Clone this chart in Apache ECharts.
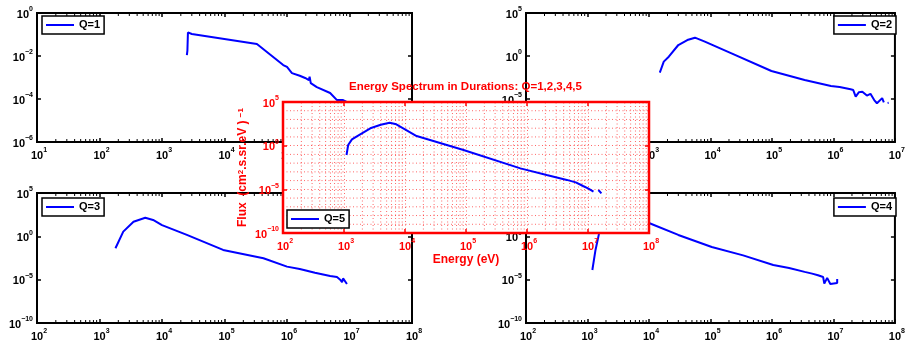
<!DOCTYPE html>
<html>
<head>
<meta charset="utf-8">
<script src="https://cdn.jsdelivr.net/npm/echarts@6/dist/echarts.min.js"></script>
<style>
  html, body { margin: 0; padding: 0; background: #fff; }
  #chart { width: 908px; height: 347px; }
</style>
</head>
<body>
<div id="chart"></div>
<script>
// spectra (energy in eV, flux in (cm^2.s.sr.eV)^-1)
const q1Energy = [2.5e3, 2.55e3, 2.6e3, 2.75e3, 3.0e3, 3.3e4, 8.7e4, 1.0e5, 1.2e5, 1.6e5, 1.95e5, 2.24e5, 2.3e5, 2.4e5, 3.0e5, 4.9e5, 6.3e5, 7.9e5, 1.6e6, 3.2e6]
const q1Flux = [1.1e-2, 1.8e-2, 1.25e-1, 1.2e-1, 1.05e-1, 3.6e-2, 3.8e-3, 3.1e-3, 1.6e-3, 1.2e-3, 9.5e-4, 7.6e-4, 1.1e-3, 5.5e-4, 3.6e-4, 1.9e-4, 8.9e-5, 8.9e-5, 3.2e-5, 1.0e-5]

const q2Energy = [1.5e3, 1.74e3, 2.1e3, 3.0e3, 4.2e3, 5.6e3, 8.1e3, 2.2e4, 9.8e4, 3.4e5, 9.1e5, 1.26e6, 1.9e6, 2.1e6, 2.3e6, 2.6e6, 2.95e6, 3.5e6, 4.0e6, 4.6e6, 5.1e6, 6.2e6, 6.6e6, 7.2e6, 7.6e6, 7.9e6]
const q2Flux = [1.15e-2, 2.2e-1, 8.3e-1, 1.9e1, 7.1e1, 1.35e2, 4.7e1, 2.0, 1.8e-2, 1.6e-3, 3.2e-4, 2.5e-4, 1.35e-4, 1.1e-4, 1.9e-5, 6.3e-5, 7.1e-5, 2.5e-5, 4.0e-5, 7.6e-6, 3.2e-6, 1.26e-5, 4.0e-6, null, 3.5e-6, 3.7e-6]

const q3Energy = [1.8e3, 2.4e3, 3.5e3, 5.4e3, 7.2e3, 1.0e4, 2.5e4, 9.5e4, 4.2e5, 1.0e6, 1.6e6, 2.8e6, 4.9e6, 6.3e6, 7.1e6, 7.6e6, 7.9e6, 9.1e6]
const q3Flux = [4.2e-2, 3.5, 4.9e1, 1.4e2, 7.8e1, 2.0e1, 1.45, 2.7e-2, 3.0e-3, 3.2e-4, 1.7e-4, 6.3e-5, 2.7e-5, 2.0e-5, 1.0e-5, 5.0e-6, 1.4e-5, 3.2e-6]

const q4Energy = [1.2e3, 1.35e3, 1.55e3, 2.2e3, 3.5e3, 5.2e3, 7.6e3, 1.0e4, 3.0e4, 1.05e5, 3.4e5, 1.05e6, 1.9e6, 3.4e6, 4.5e6, 5.6e6, 6.8e6, 7.1e6, 7.9e6, 8.9e6, 1.15e7, 1.15e7]
const q4Flux = [1.3e-4, 2.7e-2, 2.5, 4.0e1, 2.0e2, 2.8e2, 1.0e2, 3.5e1, 1.45, 5.9e-2, 6.3e-3, 5.0e-4, 2.2e-4, 7.9e-5, 5.0e-5, 3.2e-5, 2.0e-5, 3.5e-6, 1.6e-5, 3.2e-6, 4.0e-6, 1.2e-5]

const q5Energy = [1.1e3, 1.17e3, 1.35e3, 1.6e3, 2.7e3, 4.0e3, 5.6e3, 7.2e3, 1.55e4, 9.1e4, 7.8e5, 2.1e6, 4.5e6, 6.3e6, 8.3e6, 1.0e7, 1.23e7, 1.4e7, 1.48e7, 1.66e7]
const q5Flux = [8.5e-2, 1.2, 5.2, 1.1e1, 9.8e1, 2.5e2, 4.3e2, 2.8e2, 1.26e1, 3.2e-1, 2.5e-3, 4.4e-4, 1.2e-4, 6.3e-5, 2.4e-5, 1.26e-5, 5.4e-6, null, 8.3e-6, 3.5e-6]

const seriesNames = ['Q=1', 'Q=2', 'Q=3', 'Q=4', 'Q=5']
const minorSteps = [2, 3, 4, 5, 6, 7, 8, 9]
const titleText = 'Energy Spectrum in Durations: Q=1,2,3,4,5'

const FONT = 'Liberation Sans'
const BLUE = '#0000ff'
const RED = '#ff0000'
const GAP = ['-', '-']

const pairs = (xs, ys) => xs.map((x, i) => [x, ys[i] == null ? '-' : ys[i]])

// layout of the five boxes, last one is the red overlay
const panels = [
  { grid: { left: 37, top: 13, width: 375, height: 129 }, x: [1e1, 1e7], y: [1e-6, 1], yInt: 2, data: pairs(q1Energy, q1Flux), legend: { left: 42, top: 16 } },
  { grid: { left: 526, top: 13, width: 372, height: 129 }, x: [1e1, 1e7], y: [1e-10, 1e5], yInt: 5, data: pairs(q2Energy, q2Flux), legend: { right: 12, top: 16 } },
  { grid: { left: 37, top: 193, width: 375, height: 130 }, x: [1e2, 1e8], y: [1e-10, 1e5], yInt: 5, data: pairs(q3Energy, q3Flux), legend: { left: 42, top: 198 } },
  { grid: { left: 526, top: 193, width: 372, height: 130 }, x: [1e2, 1e8], y: [1e-10, 1e5], yInt: 5, data: pairs(q4Energy, q4Flux), legend: { right: 12, top: 198 } },
  { grid: { left: 283, top: 102, width: 366, height: 131 }, x: [1e2, 1e8], y: [1e-10, 1e5], yInt: 5, data: pairs(q5Energy, q5Flux), legend: { left: 287, top: 210 }, red: true }
]

function expText(v) {
  const e = Math.round(Math.log10(v))
  return e < 0 ? '\u2212' + (-e) : String(e)
}
const yLabel = v => '{b|10}{e|' + expText(v) + '}'
// spacer on the left keeps the "10" itself centred under the tick
const xLabel = v => '{p| }{b|10}{e|' + expText(v) + '}'

function rich(color) {
  return {
    p: { width: 4, fontSize: 7 },
    b: { fontFamily: FONT, fontSize: 11, fontWeight: 'bold', color, lineHeight: 14, verticalAlign: 'bottom' },
    e: { fontFamily: FONT, fontSize: 7, fontWeight: 'bold', color, lineHeight: 7, verticalAlign: 'top' }
  }
}

// 2..9 times each decade inside the x range
function minorX(lo, hi) {
  const out = []
  for (let d = Math.round(Math.log10(lo)); d < Math.round(Math.log10(hi)); d++) {
    minorSteps.forEach(k => out.push(k * Math.pow(10, d)))
  }
  return out
}

// decades that carry no labelled tick
function minorY(lo, hi, step) {
  const out = []
  for (let d = Math.round(Math.log10(lo)) + 1; d < Math.round(Math.log10(hi)); d++) {
    if (d % step !== 0) out.push(Math.pow(10, d))
  }
  return out
}

const grids = [], xAxes = [], yAxes = [], series = [], legends = []
const dotted = { color: RED, width: 1, type: [1, 2.5], opacity: 0.6 }

panels.forEach((p, g) => {
  const col = p.red ? RED : '#000'
  const z = p.red ? 21 : 1
  grids.push({ ...p.grid, show: true, backgroundColor: '#fff', borderColor: col, borderWidth: p.red ? 2.5 : 2, z: p.red ? 20 : 0 })

  const tick = { show: true, inside: true, length: 4, lineStyle: { color: col, width: 1.5 } }
  const xMain = xAxes.length
  xAxes.push({
    type: 'log', gridIndex: g, min: p.x[0], max: p.x[1], interval: 1, position: 'bottom', z,
    axisLine: { show: false }, axisTick: tick,
    axisLabel: { formatter: xLabel, margin: 5, rich: rich(col) },
    splitLine: { show: !!p.red, lineStyle: dotted },
    name: p.red ? 'Energy (eV)' : '', nameLocation: 'middle', nameGap: 21,
    nameTextStyle: { color: RED, fontFamily: FONT, fontSize: 12, fontWeight: 'bold' }
  })
  xAxes.push({
    type: 'log', gridIndex: g, min: p.x[0], max: p.x[1], interval: 1, position: 'top', z,
    axisLine: { show: false }, axisTick: tick, axisLabel: { show: false }, splitLine: { show: false }
  })

  const yMain = yAxes.length
  yAxes.push({
    type: 'log', gridIndex: g, min: p.y[0], max: p.y[1], interval: p.yInt, position: 'left', z,
    axisLine: { show: false }, axisTick: tick,
    axisLabel: { formatter: yLabel, margin: 4, rich: rich(col) },
    splitLine: { show: !!p.red, lineStyle: dotted },
    name: p.red ? 'Flux  (cm{s|2}.s.sr.eV ) {t|\u22121}' : '', nameLocation: 'middle', nameGap: 34,
    nameTextStyle: {
      color: RED, fontFamily: FONT, fontSize: 12, fontWeight: 'bold',
      rich: {
        s: { color: RED, fontFamily: FONT, fontSize: 8, fontWeight: 'bold', verticalAlign: 'top', lineHeight: 8 },
        t: { color: RED, fontFamily: FONT, fontSize: 8, fontWeight: 'bold', verticalAlign: 'top', lineHeight: 4 }
      }
    }
  })
  yAxes.push({
    type: 'log', gridIndex: g, min: p.y[0], max: p.y[1], interval: p.yInt, position: 'right', z,
    axisLine: { show: false }, axisTick: tick, axisLabel: { show: false }, splitLine: { show: false }
  })

  // minor decoration drawn on the panel's own log scales:
  // dotted minor grid in the red box, short minor ticks along top and bottom of the black ones
  const deco = []
  if (p.red) {
    minorX(p.x[0], p.x[1]).forEach(v => deco.push([v, p.y[0]], [v, p.y[1]], GAP))
    minorY(p.y[0], p.y[1], p.yInt).forEach(v => deco.push([p.x[0], v], [p.x[1], v], GAP))
  } else {
    const f = Math.pow(10, 3 * Math.log10(p.y[1] / p.y[0]) / p.grid.height)
    minorX(p.x[0], p.x[1]).forEach(v => {
      deco.push([v, p.y[0]], [v, p.y[0] * f], GAP, [v, p.y[1] / f], [v, p.y[1]], GAP)
    })
  }
  series.push({
    type: 'line', xAxisIndex: xMain, yAxisIndex: yMain, data: deco, symbol: 'none',
    connectNulls: false, silent: true, z: p.red ? 21 : 1,
    lineStyle: p.red ? dotted : { color: '#000', width: 1 }
  })

  series.push({
    name: seriesNames[g], type: 'line', xAxisIndex: xMain, yAxisIndex: yMain,
    data: p.data, symbol: 'none', connectNulls: false, z: p.red ? 22 : 2,
    lineStyle: { color: BLUE, width: 2 }, itemStyle: { color: BLUE }
  })

  legends.push({
    data: [seriesNames[g]], ...p.legend, selectedMode: false,
    backgroundColor: '#fff', borderColor: '#000', borderWidth: 1.5, borderRadius: 0,
    padding: [3, 4], icon: 'rect', itemWidth: 28, itemHeight: 2, itemGap: 4,
    textStyle: { fontFamily: FONT, fontSize: 11, fontWeight: 'bold', color: '#000', lineHeight: 12 },
    z: p.red ? 30 : 5
  })
})

const chart = echarts.init(document.getElementById('chart'))
chart.setOption({
  animation: false,
  backgroundColor: '#fff',
  title: {
    text: titleText, left: 349, top: 81, padding: 0, z: 30,
    textStyle: { color: RED, fontFamily: FONT, fontSize: 11.5, fontWeight: 'bold' }
  },
  legend: legends,
  grid: grids,
  xAxis: xAxes,
  yAxis: yAxes,
  series
})
</script>
</body>
</html>
